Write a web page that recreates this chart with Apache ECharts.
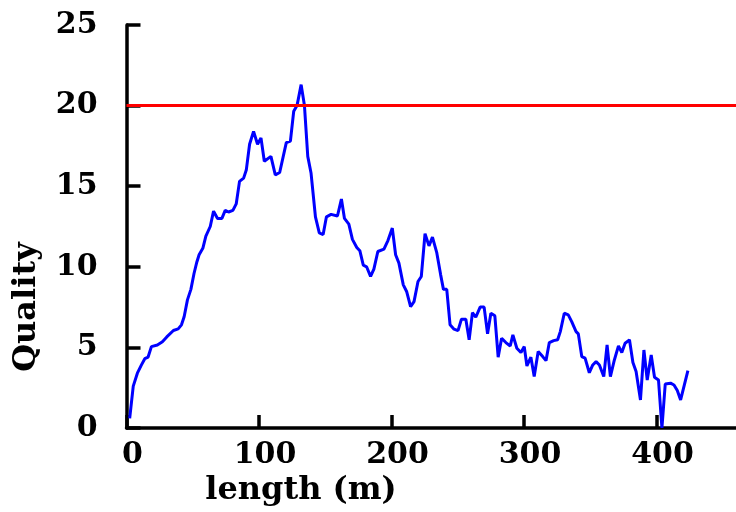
<!DOCTYPE html>
<html>
<head>
<meta charset="utf-8">
<script src="https://cdn.jsdelivr.net/npm/echarts@6/dist/echarts.min.js"></script>
<style>html,body{margin:0;padding:0;background:#fff}#c{width:736px;height:512px}</style>
</head>
<body>
<div id="c"></div>
<script>
const xTicks = [0, 100, 200, 300, 400];
const yTicks = [0, 5, 10, 15, 20, 25];
const threshold = 20;
const lengthM = [2.4,5.1,8.2,11.2,13.8,16.3,18.8,23.3,27.1,30.4,35.4,39,41.5,43.5,46,48.6,51,53.1,54.8,57.6,59.9,63.2,65.7,68.7,72,74.5,77,80.3,82.8,85.3,88.4,90.4,92.9,95.9,98.9,101.5,104,109,112.3,115.6,120.6,123.7,126.2,128.7,131.8,134.3,136.8,139.3,142.6,145.5,148.4,150.9,154.4,159.2,162.2,164.5,167.8,170.5,173.8,176.1,178.7,181.2,184.2,186.7,189.7,194.3,197.3,200.6,203.1,205.6,208.9,211.4,214.4,217,220,222.5,225.3,228.3,230.9,234.1,237.1,239.2,241.7,244.2,247.2,250.2,252.8,256.1,258.6,261.1,263.6,266.9,269.9,272.5,275,278,280.5,283.1,286.3,289.6,291.6,294.6,297.7,300.2,302.2,305.2,307.7,310.7,314.1,316.6,319.1,322.4,325.4,327.4,330.4,333.4,336,339.3,341,343.6,346.1,349.3,351.9,354.4,356.9,360.2,362.7,365.2,368.2,371.3,373.8,376.3,379.6,382.2,384.6,387.9,390.5,393,396,398.5,401.5,404.1,406.6,410.6,413.2,415.7,418.2,423.7];
const quality = [0.6,2.6,3.4,3.9,4.3,4.4,5.05,5.15,5.35,5.65,6.05,6.15,6.4,6.9,7.95,8.6,9.6,10.3,10.75,11.15,11.9,12.5,13.45,13.0,13.0,13.5,13.4,13.5,13.9,15.3,15.5,16.0,17.6,18.4,17.6,18.0,16.55,16.85,15.7,15.85,17.7,17.8,19.65,20.0,21.3,20.0,16.85,15.8,13.1,12.1,12.0,13.1,13.25,13.15,14.2,13.0,12.65,11.7,11.2,11.0,10.1,10.0,9.4,9.86,10.95,11.1,11.63,12.4,10.75,10.23,8.88,8.47,7.53,7.84,9.09,9.4,12.05,11.3,11.84,10.9,9.5,8.6,8.6,6.4,6.13,6.04,6.75,6.75,5.47,7.16,6.87,7.5,7.5,5.84,7.12,6.96,4.39,5.57,5.3,5.09,5.78,4.95,4.68,5.05,3.85,4.39,3.19,4.74,4.43,4.18,5.3,5.42,5.47,5.98,7.12,7.02,6.6,5.98,5.84,4.43,4.33,3.43,3.91,4.12,3.91,3.19,5.16,3.19,4.22,5.09,4.68,5.26,5.47,4.06,3.5,1.74,4.84,2.98,4.53,3.15,2.98,0.0,2.73,2.78,2.67,2.32,1.74,3.56];

const seriesData = lengthM.map((x, i) => [x, quality[i]]);
const FONT = 'DejaVu Serif';
const chart = echarts.init(document.getElementById('c'), null, {renderer: 'canvas'});
chart.setOption({
  animation: false,
  backgroundColor: '#ffffff',
  grid: {left: 126.5, top: 25, right: 0, bottom: 84, containLabel: false},
  xAxis: {
    type: 'value', min: 0, max: 460, interval: 100,
    axisLine: {show: true, onZero: false, lineStyle: {color: '#000', width: 3.5}},
    axisTick: {show: true, inside: true, length: 13, lineStyle: {color: '#000', width: 3.5}, customValues: xTicks},
    axisLabel: {show: true, margin: 12, color: '#000', fontFamily: FONT, fontWeight: 'bold', fontSize: 30, customValues: xTicks, padding: [0, 0, 0, 12]},
    splitLine: {show: false}
  },
  yAxis: {
    type: 'value', min: 0, max: 25, interval: 5,
    axisLine: {show: true, onZero: false, lineStyle: {color: '#000', width: 3.5}},
    axisTick: {show: true, inside: true, length: 14, lineStyle: {color: '#000', width: 3.5}, customValues: yTicks},
    axisLabel: {show: true, margin: 29, color: '#000', fontFamily: FONT, fontWeight: 'bold', fontSize: 30, customValues: yTicks},
    splitLine: {show: false}
  },
  graphic: [
    {type: 'text', x: 301, y: 491, style: {text: 'length (m)', font: 'bold 32px "DejaVu Serif"', fill: '#000', textAlign: 'center', textVerticalAlign: 'middle'}},
    {type: 'text', x: 27, y: 307, rotation: Math.PI / 2, style: {text: 'Quality', font: 'bold 32px "DejaVu Serif"', fill: '#000', textAlign: 'center', textVerticalAlign: 'middle'}}
  ],
  series: [{
    type: 'line',
    data: seriesData,
    showSymbol: false,
    symbol: 'none',
    clip: false,
    lineStyle: {color: '#0000ff', width: 3},
    itemStyle: {color: '#0000ff'},
    markLine: {
      silent: true,
      symbol: ['none', 'none'],
      label: {show: false},
      lineStyle: {color: '#ff0000', width: 3, type: 'solid'},
      data: [{yAxis: threshold}]
    },
    z: 3
  }]
});
</script>
</body>
</html>
